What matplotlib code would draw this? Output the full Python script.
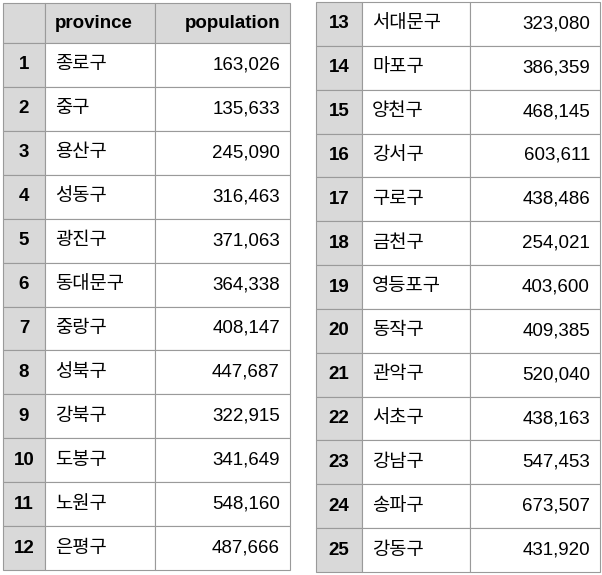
import matplotlib
matplotlib.use('Agg')
import matplotlib.pyplot as plt
from matplotlib.patches import Rectangle

plt.rcParams['font.family'] = ['Liberation Sans', 'Noto Sans CJK KR', 'DejaVu Sans']

provinces = ['종로구', '중구', '용산구', '성동구', '광진구', '동대문구', '중랑구', '성북구',
             '강북구', '도봉구', '노원구', '은평구', '서대문구', '마포구', '양천구', '강서구',
             '구로구', '금천구', '영등포구', '동작구', '관악구', '서초구', '강남구', '송파구', '강동구']
population = [163026, 135633, 245090, 316463, 371063, 364338, 408147, 447687,
              322915, 341649, 548160, 487666, 323080, 386359, 468145, 603611,
              438486, 254021, 403600, 409385, 520040, 438163, 547453, 673507, 431920]

GREY = '#d9d9d9'
LINE = '#9a9a9a'
FS = 13.5

fig = plt.figure(figsize=(6.02, 5.75), dpi=100)
ax = fig.add_axes([0, 0, 1, 1])
ax.set_xlim(0, 602)
ax.set_ylim(575, 0)
ax.axis('off')


def cell(x0, y0, w, h, fc='white'):
    ax.add_patch(Rectangle((x0, y0), w, h, facecolor=fc, edgecolor=LINE, linewidth=0.8))


def draw_table(cols, y_top, row_h, idx_range, header):
    c0, c1, c2, c3 = cols
    y = y_top
    if header:
        cell(c0, y, c1 - c0, header, GREY)
        cell(c1, y, c2 - c1, header, GREY)
        cell(c2, y, c3 - c2, header, GREY)
        ax.text(c1 + 10, y + header / 2, 'province', fontsize=FS, fontweight='bold',
                ha='left', va='center')
        ax.text(c3 - 10, y + header / 2, 'population', fontsize=FS, fontweight='bold',
                ha='right', va='center')
        y += header
    for i in idx_range:
        cell(c0, y, c1 - c0, row_h, GREY)
        cell(c1, y, c2 - c1, row_h)
        cell(c2, y, c3 - c2, row_h)
        yc = y + row_h / 2
        ax.text((c0 + c1) / 2, yc, str(i + 1), fontsize=FS, fontweight='bold',
                ha='center', va='center')
        ax.text(c1 + 10, yc, provinces[i], fontsize=FS, ha='left', va='center')
        ax.text(c3 - 10, yc, f'{population[i]:,}', fontsize=FS, ha='right', va='center')
        y += row_h


draw_table((3, 45, 155, 290), 3, 527 / 12, range(0, 12), 40)
draw_table((316, 362, 470, 600), 2, 570 / 13, range(12, 25), 0)

fig.savefig('out.png', dpi=100, facecolor='white')
